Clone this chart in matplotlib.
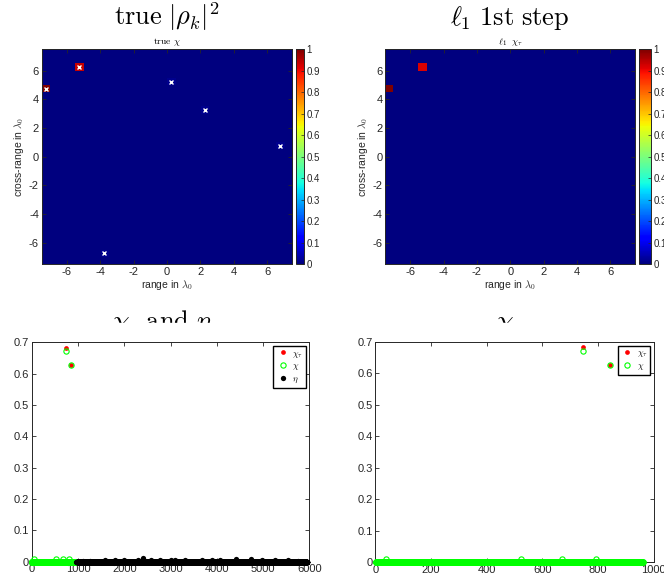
import numpy as np
import matplotlib
matplotlib.use('Agg')
import matplotlib.pyplot as plt
from matplotlib.patches import Rectangle

plt.rcParams['font.family'] = ['Liberation Sans', 'DejaVu Sans']
plt.rcParams['mathtext.fontset'] = 'cm'
plt.rcParams['axes.unicode_minus'] = False

# grid: 31 x 31 cells, centres at -7.25 + 0.5k
n_side = 31
N = n_side * n_side
cell = 0.5
x0 = -7.5

# scatterers (1-based linear index = row*31 + col + 1)
true_idx = [39, 525, 671, 745, 791, 842]
true_val = [0.010, 0.010, 0.010, 0.672, 0.010, 0.628]
true_pos_x = [-3.75, 6.75, 2.25, -7.25, 0.25, -5.25]
true_pos_y = [-6.75, 0.75, 3.25, 4.75, 5.25, 6.25]

# l1 solution
rec_idx = [745, 842]
rec_val = [0.683, 0.628]

# noise part eta (indices after N), mostly zero
eta_len = 5000
eta_idx = [1100, 1250, 1580, 1800, 2000, 2290, 2400, 2580, 2760, 3010, 3090,
           3310, 3670, 3890, 4070, 4415, 4740, 4970, 5260, 5540, 5760]
eta_val = [0.003, 0.003, 0.004, 0.004, 0.004, 0.006, 0.012, 0.004, 0.004, 0.004,
           0.004, 0.004, 0.004, 0.004, 0.004, 0.009, 0.009, 0.004, 0.004, 0.004, 0.003]

chi = np.zeros(N)
chi[np.array(true_idx) - 1] = true_val
chi_tau = np.zeros(N)
chi_tau[np.array(rec_idx) - 1] = rec_val
eta_x = np.arange(N + 1, N + eta_len + 1)
eta = np.zeros(eta_len)
eta[np.array(eta_idx) - N - 1] = eta_val

W, H = 664, 582
fig = plt.figure(figsize=(W / 100, H / 100), dpi=100)


def px(l, t, r, b):
    return [l / W, 1 - b / H, (r - l) / W, (b - t) / H]


tc = '#262626'


def style(ax, fs=8):
    ax.tick_params(direction='in', top=True, right=True, colors=tc, labelsize=fs,
                   length=3, width=0.6, pad=2)
    for s in ax.spines.values():
        s.set_color(tc)
        s.set_linewidth(0.7)


def heat(ax, cax, data, title):
    img = data.reshape(n_side, n_side) / data.max()
    ext = (x0, x0 + n_side * cell, x0, x0 + n_side * cell)
    im = ax.imshow(img, cmap='jet', vmin=0, vmax=1, origin='lower', extent=ext,
                   aspect='auto', interpolation='nearest')
    ax.set_xlim(-7.5, 7.5)
    ax.set_ylim(-7.5, 7.5)
    ax.set_xticks([-6, -4, -2, 0, 2, 4, 6])
    ax.set_yticks([-6, -4, -2, 0, 2, 4, 6])
    style(ax)
    ax.set_xlabel(r'range in $\lambda_0$', fontsize=7.5, color=tc, labelpad=1)
    ax.set_ylabel(r'cross-range in $\lambda_0$', fontsize=7.5, color=tc, labelpad=2)
    ax.set_title(title, fontsize=7, pad=4)
    cb = fig.colorbar(im, cax=cax, ticks=np.arange(0, 1.01, 0.1))
    cb.ax.set_yticklabels(['0'] + ['%.1f' % v for v in np.arange(0.1, 0.95, 0.1)] + ['1'])
    cb.ax.tick_params(direction='in', colors=tc, labelsize=7, length=2, width=0.5, pad=2)
    cb.outline.set_edgecolor(tc)
    cb.outline.set_linewidth(0.7)
    return ax


ax1 = fig.add_axes(px(41.7, 49.3, 292.3, 264))
cax1 = fig.add_axes(px(295.7, 49.3, 304, 264))
heat(ax1, cax1, chi, r'$\mathrm{true}\ \chi$')
ax1.plot(true_pos_x, true_pos_y, 'x', color='white', ms=2.5, mew=1.0)

ax2 = fig.add_axes(px(385.3, 49.3, 635.3, 264))
cax2 = fig.add_axes(px(639, 49.3, 651, 264))
heat(ax2, cax2, chi_tau, r'$\ell_1\ \ \chi_\tau$')

fig.text(167 / W, 1 - 25 / H, r'$\mathrm{true}\ |\rho_k|^2$', fontsize=19,
         ha='center', va='baseline')
fig.text(510 / W, 1 - 25 / H, r'$\ell_1\ \mathrm{1st\ step}$', fontsize=19,
         ha='center', va='baseline')

idx = np.arange(1, N + 1)
lime = (0, 1, 0)


def leg(ax):
    ax.legend(loc='upper right', fontsize=6.5, fancybox=False, edgecolor='black',
              framealpha=1, borderaxespad=0.4, handletextpad=0.3, borderpad=0.3,
              labelspacing=0.2, handlelength=1.5).set_zorder(5)


ax3 = fig.add_axes(px(32, 342.3, 309.3, 561.7))
ax3.plot(idx, chi_tau, 'o', color='red', mec='none', ms=3.4, label=r'$\chi_\tau$',
         clip_on=False, zorder=3)
ax3.plot(idx, chi, 'o', mfc='none', mec=lime, ms=3.8, mew=0.8, label=r'$\chi$',
         clip_on=False, zorder=3)
ax3.plot(eta_x, eta, 'o', color='black', mec='none', ms=3.8, label=r'$\eta$',
         clip_on=False, zorder=3)
ax3.set_xlim(0, 6000)
ax3.set_ylim(0, 0.7)
ax3.set_xticks(np.arange(0, 6001, 1000))
ax3.set_yticks(np.arange(0, 0.71, 0.1))
ax3.set_yticklabels(['0'] + ['%.1f' % v for v in np.arange(0.1, 0.71, 0.1)])
style(ax3)
leg(ax3)

ax4 = fig.add_axes(px(375.3, 342, 653.7, 562))
ax4.plot(idx, chi_tau, 'o', color='red', mec='none', ms=3.4, label=r'$\chi_\tau$',
         clip_on=False, zorder=3)
ax4.plot(idx, chi, 'o', mfc='none', mec=lime, ms=3.8, mew=0.8, label=r'$\chi$',
         clip_on=False, zorder=3)
ax4.set_xlim(0, 1000)
ax4.set_ylim(0, 0.7)
ax4.set_xticks(np.arange(0, 1001, 200))
ax4.set_yticks(np.arange(0, 0.71, 0.1))
ax4.set_yticklabels(['0'] + ['%.1f' % v for v in np.arange(0.1, 0.71, 0.1)])
style(ax4)
leg(ax4)

# bottom titles, partly hidden by the lower panels
fig.text(162 / W, 1 - 329 / H, r'$\chi_\tau\ \mathrm{and}\ \eta$', fontsize=19,
         ha='center', va='baseline')
fig.text(505 / W, 1 - 329 / H, r'$\chi$', fontsize=19, ha='center', va='baseline')
fig.add_artist(Rectangle((0, 1 - 336 / H), 1, 13 / H, transform=fig.transFigure,
                         color='white', zorder=10))

fig.savefig('out.png', dpi=100)
